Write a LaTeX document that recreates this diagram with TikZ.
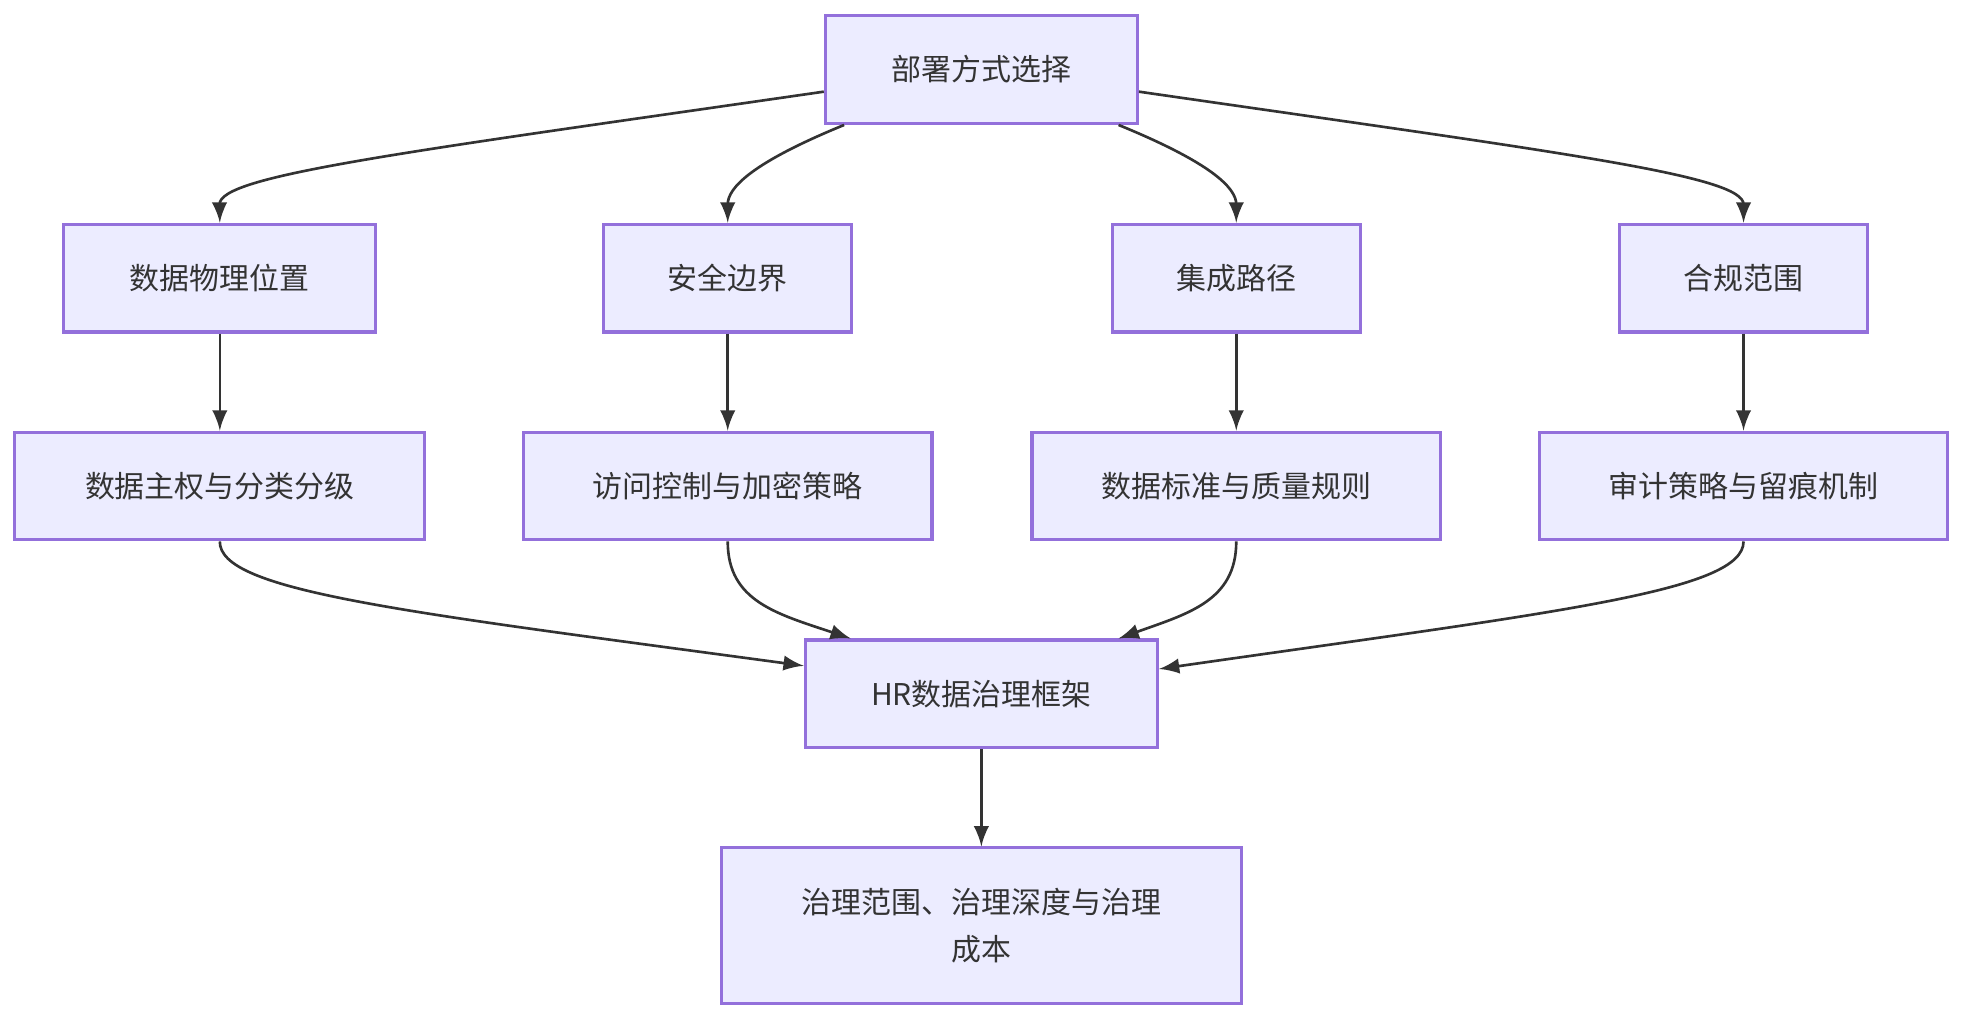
\documentclass[tikz,border=0pt]{standalone}
\usepackage{fontspec}
\setmainfont{Noto Sans CJK SC}
\usepackage{tikz}
\definecolor{boxfill}{HTML}{ECECFF}
\definecolor{boxline}{HTML}{9370DB}
\definecolor{ink}{HTML}{333333}
\tikzset{
  box/.style={draw=boxline, fill=boxfill, line width=0.7pt, text=ink, inner sep=0pt,
    minimum height=0.86cm, font=\fontsize{6.8}{10.5}\selectfont, align=center},
  link/.style={draw=ink, line width=0.6pt, -latex}
}
\begin{document}
\begin{tikzpicture}[x=0.01cm, y=-0.01cm]
        \useasboundingbox (0,0) rectangle (1568,814);

        \node[box, minimum width=2.49cm] (top) at (783.5,55.5) {部署方式选择};

        \node[box, minimum width=2.49cm] (loc) at (175.5,222) {数据物理位置};
        \node[box, minimum width=1.98cm] (sec) at (581,222) {安全边界};
        \node[box, minimum width=1.98cm] (intg) at (987,222) {集成路径};
        \node[box, minimum width=1.98cm] (comp) at (1392,222) {合规范围};

        \node[box, minimum width=3.27cm] (sov) at (175.5,388) {数据主权与分类分级};
        \node[box, minimum width=3.26cm] (acc) at (581,388) {访问控制与加密策略};
        \node[box, minimum width=3.26cm] (std) at (987,388) {数据标准与质量规则};
        \node[box, minimum width=3.26cm] (aud) at (1392,388) {审计策略与留痕机制};

        \node[box, minimum width=2.81cm] (hr) at (783.5,554) {HR数据治理框架};
        \node[box, minimum width=4.15cm, minimum height=1.24cm] (res) at (783.5,739) {治理范围、治理深度与治理\\成本};

        % top fan-out
        \draw[link] (top.188) .. controls (320,122) and (175,140) .. (loc.north);
        \draw[link] (top.202) .. controls (600,130) and (581,150) .. (sec.north);
        \draw[link] (top.338) .. controls (967,130) and (987,150) .. (intg.north);
        \draw[link] (top.352) .. controls (1247,122) and (1392,140) .. (comp.north);

        % straight drops
        \draw[link] (loc) -- (sov);
        \draw[link] (sec) -- (acc);
        \draw[link] (intg) -- (std);
        \draw[link] (comp) -- (aud);

        % fan-in
        \draw[link] (sov.south) .. controls (175,472) and (320,488) .. (hr.171.5);
        \draw[link] (acc.south) .. controls (581,480) and (620,490) .. (hr.157.8);
        \draw[link] (std.south) .. controls (987,480) and (948,490) .. (hr.22.2);
        \draw[link] (aud.south) .. controls (1392,472) and (1247,488) .. (hr.8.5);

        \draw[link] (hr) -- (res);
\end{tikzpicture}
\end{document}
